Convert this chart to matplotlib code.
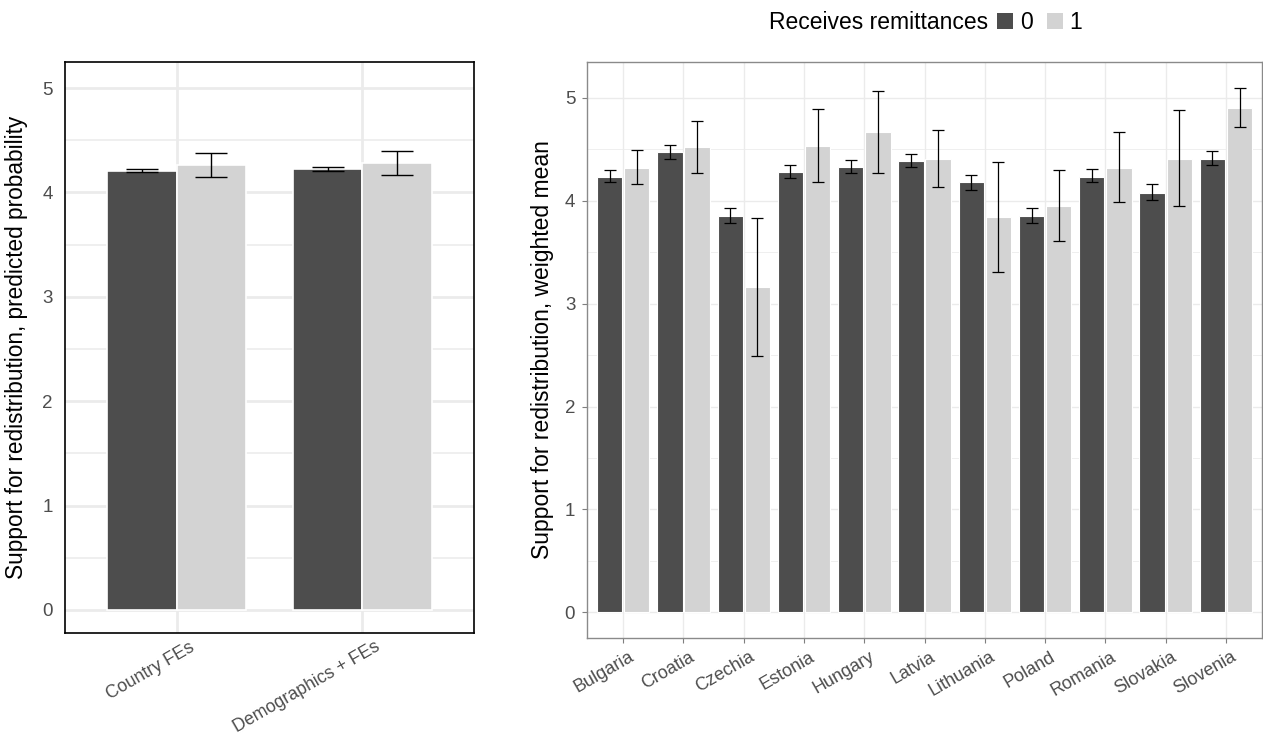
import numpy as np
import matplotlib.pyplot as plt
import matplotlib.transforms as mtransforms
from matplotlib.patches import Patch

plt.rcParams['font.family'] = ['Liberation Sans', 'DejaVu Sans']

# left panel: model predictions
models = ["Country FEs", "Demographics + FEs"]
pred_0 = [4.21, 4.225]
pred_0_lo = [4.195, 4.21]
pred_0_hi = [4.225, 4.24]
pred_1 = [4.26, 4.28]
pred_1_lo = [4.15, 4.165]
pred_1_hi = [4.375, 4.395]

# right panel: weighted means by country
countries = ["Bulgaria", "Croatia", "Czechia", "Estonia", "Hungary", "Latvia",
             "Lithuania", "Poland", "Romania", "Slovakia", "Slovenia"]
mean_0 = [4.235, 4.475, 3.85, 4.28, 4.33, 4.39, 4.18, 3.85, 4.235, 4.08, 4.41]
lo_0 = [4.18, 4.41, 3.78, 4.22, 4.27, 4.33, 4.11, 3.78, 4.18, 4.01, 4.35]
hi_0 = [4.30, 4.54, 3.93, 4.35, 4.40, 4.46, 4.25, 3.93, 4.31, 4.16, 4.48]
mean_1 = [4.32, 4.52, 3.16, 4.53, 4.67, 4.41, 3.84, 3.95, 4.32, 4.41, 4.90]
lo_1 = [4.16, 4.27, 2.49, 4.18, 4.27, 4.13, 3.31, 3.61, 3.99, 3.95, 4.72]
hi_1 = [4.49, 4.78, 3.83, 4.89, 5.07, 4.69, 4.38, 4.30, 4.67, 4.88, 5.10]

dark = "#4d4d4d"
light = "#d3d3d3"
grid_c = "#ebebeb"
tick_c = "#4d4d4d"

fig = plt.figure(figsize=(12.63, 7.36), dpi=100)
ax1 = fig.add_axes([0.0515, 0.140, 0.3238, 0.7758])
ax2 = fig.add_axes([0.4648, 0.1332, 0.5345, 0.7826])


def style_axes(ax, border_c, border_w, grid_w, tick_len):
    ax.set_axisbelow(True)
    for y in np.arange(0, 5.01, 1):
        ax.axhline(y, color=grid_c, lw=grid_w, zorder=0)
    for y in np.arange(0.5, 5.01, 1):
        ax.axhline(y, color=grid_c, lw=grid_w * 0.55, zorder=0)
    for s in ax.spines.values():
        s.set_color(border_c)
        s.set_linewidth(border_w)
    ax.set_yticks([0, 1, 2, 3, 4, 5])
    ax.tick_params(axis='both', colors="#7f7f7f", length=tick_len, width=0.8)
    ax.tick_params(axis='y', labelsize=13.5, labelcolor=tick_c, pad=5)
    ax.tick_params(axis='x', labelsize=13, labelcolor=tick_c, pad=4)


def shift_labels(ax, dx, dy):
    off = mtransforms.ScaledTranslation(dx / 100, dy / 100, fig.dpi_scale_trans)
    for lab in ax.get_xticklabels():
        lab.set_transform(lab.get_transform() + off)


# left panel
x1 = np.arange(len(models))
for xi in x1:
    ax1.axvline(xi, color=grid_c, lw=2, zorder=0)
ax1.bar(x1 - 0.1875, pred_0, width=0.375, color=dark, edgecolor="white", lw=1.2, zorder=2)
ax1.bar(x1 + 0.1875, pred_1, width=0.375, color=light, edgecolor="white", lw=1.2, zorder=2)
for xs, m, lo, hi in [(x1 - 0.1875, pred_0, pred_0_lo, pred_0_hi),
                      (x1 + 0.1875, pred_1, pred_1_lo, pred_1_hi)]:
    ax1.errorbar(xs, m, yerr=[np.array(m) - np.array(lo), np.array(hi) - np.array(m)],
                 fmt='none', ecolor='black', elinewidth=1.0, capsize=11.5, capthick=1.0, zorder=3)
ax1.set_xlim(-0.6, 1.6)
ax1.set_ylim(-0.22, 5.25)
style_axes(ax1, "black", 1.2, 2.0, 0)
ax1.tick_params(axis='y', pad=9)
ax1.set_xticks(x1)
ax1.set_xticklabels(models, rotation=30, ha='right', rotation_mode='anchor')
ax1.tick_params(axis='x', labelsize=12.8)
shift_labels(ax1, 12, 0)
ax1.set_ylabel("Support for redistribution, predicted probability", fontsize=16.3, labelpad=10)

# right panel
x2 = np.arange(len(countries))
for xi in x2:
    ax2.axvline(xi, color=grid_c, lw=1.0, zorder=0)
ax2.bar(x2 - 0.225, mean_0, width=0.42, color=dark, edgecolor="white", lw=0.8, zorder=2)
ax2.bar(x2 + 0.225, mean_1, width=0.42, color=light, edgecolor="white", lw=0.8, zorder=2)
for xs, m, lo, hi in [(x2 - 0.225, mean_0, lo_0, hi_0),
                      (x2 + 0.225, mean_1, lo_1, hi_1)]:
    ax2.errorbar(xs, m, yerr=[np.array(m) - np.array(lo), np.array(hi) - np.array(m)],
                 fmt='none', ecolor='black', elinewidth=0.9, capsize=4, capthick=0.9, zorder=3)
ax2.set_xlim(-0.6, 10.6)
ax2.set_ylim(-0.25, 5.35)
style_axes(ax2, "#8a8a8a", 1.0, 1.0, 3.5)
ax2.set_xticks(x2)
ax2.set_xticklabels(countries, rotation=30, ha='right', rotation_mode='anchor')
shift_labels(ax2, 5, 0)
ax2.set_ylabel("Support for redistribution, weighted mean", fontsize=16.5, labelpad=8)

# legend at top
fig.text(0.7826, 0.969, "Receives remittances", fontsize=16.5, ha='right', va='center')
handles = [Patch(facecolor=dark, edgecolor='none', label="0"),
           Patch(facecolor=light, edgecolor='none', label="1")]
fig.legend(handles=handles, loc='center left', bbox_to_anchor=(0.7895, 0.969), ncol=2,
           frameon=False, fontsize=16.5, handlelength=0.7, handleheight=0.7,
           handletextpad=0.3, columnspacing=0.6, borderpad=0.0, borderaxespad=0.0)

fig.savefig("out.png", dpi=100)
